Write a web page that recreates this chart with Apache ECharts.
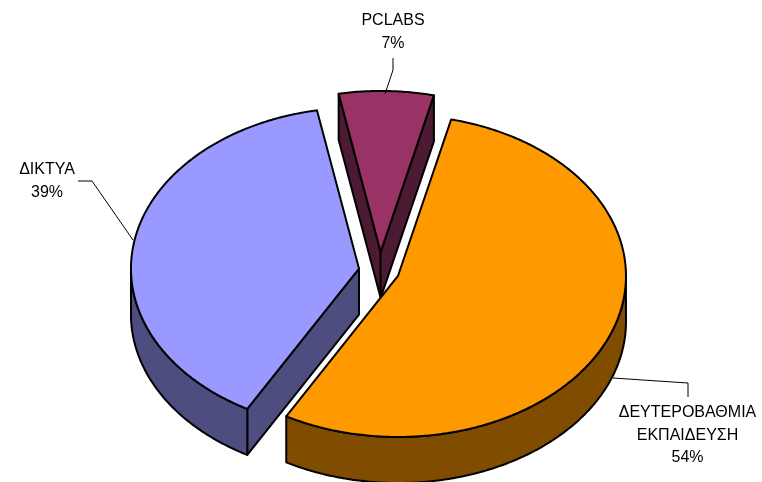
<!DOCTYPE html>
<html>
<head>
<meta charset="utf-8">
<script src="https://cdn.jsdelivr.net/npm/echarts@6/dist/echarts.min.js"></script>
<style>
html,body{margin:0;padding:0;background:#fff;}
#chart{width:762px;height:482px;}
</style>
</head>
<body>
<div id="chart"></div>
<script>
// ---- data ----
const categories = ['ΔΕΥΤΕΡΟΒΑΘΜΙΑ ΕΚΠΑΙΔΕΥΣΗ', 'ΔΙΚΤΥΑ', 'PCLABS'];
const values = [54.4, 38.9, 6.7];
const topColors = ['#FF9900', '#9999FF', '#993366'];
const sideColors = ['#804C00', '#4D4D80', '#4D1A33'];

// ---- layout (not data) ----
const geo = { cx: 380, cy: 271, rx: 228, ry: 161, depth: 46, startDeg: 13.5 };
const explode = [19.3, 21.3, 27];
const labelLayout = [
  { x: 687.5, y: 401.5, line: [[613, 378], [688, 383], [688, 397]] },
  { x: 47, y: 158.5, line: [[78, 181], [92, 181], [133, 240]] },
  { x: 393, y: 9.5, line: [[393, 58], [393, 70], [385, 94]] }
];

const total = values.reduce((a, b) => a + b, 0);
const angles = [];
(function () {
  let a = geo.startDeg * Math.PI / 180;
  for (let i = 0; i < values.length; i++) {
    const b = a + 2 * Math.PI * values[i] / total;
    angles.push([a, b]);
    a = b;
  }
})();
// depth rank: back slices first
const rank = angles.map((ab, i) => ({ i, c: Math.cos((ab[0] + ab[1]) / 2) }))
  .sort((p, q) => q.c - p.c)
  .reduce((acc, p, r) => { acc[p.i] = r; return acc; }, {});

function renderItem(params, api) {
  const i = params.dataIndex;
  const [a, b] = angles[i];
  const m = (a + b) / 2;
  const k = geo.ry / geo.rx;
  const ox = geo.cx + explode[i] * Math.sin(m);
  const oy = geo.cy - explode[i] * Math.cos(m) * k;
  const d = geo.depth;
  const P = (t, dy) => [ox + geo.rx * Math.sin(t), oy - geo.ry * Math.cos(t) + (dy || 0)];
  const arc = (t0, t1, dy) => {
    const n = Math.max(2, Math.ceil(Math.abs(t1 - t0) / 0.01));
    const pts = [];
    for (let j = 0; j <= n; j++) pts.push(P(t0 + (t1 - t0) * j / n, dy));
    return pts;
  };
  const base = rank[i] * 10;
  const stroke = { stroke: '#000', lineWidth: 2, lineJoin: 'round' };
  const children = [];
  const side = Object.assign({ fill: sideColors[i] }, stroke);

  // radial wall at start angle
  if (Math.sin(a) < 0) {
    const r = P(a);
    children.push({ type: 'polygon', z2: base + 1,
      shape: { points: [[ox, oy], r, [r[0], r[1] + d], [ox, oy + d]] }, style: side });
  }
  // radial wall at end angle
  if (Math.sin(b) > 0) {
    const r = P(b);
    children.push({ type: 'polygon', z2: base + 1,
      shape: { points: [[ox, oy], r, [r[0], r[1] + d], [ox, oy + d]] }, style: side });
  }
  // outer curved wall (front half)
  const lo = Math.max(a, Math.PI / 2), hi = Math.min(b, 3 * Math.PI / 2);
  if (hi > lo) {
    const pts = arc(lo, hi, 0).concat(arc(hi, lo, d));
    children.push({ type: 'polygon', z2: base + 2, shape: { points: pts }, style: side });
  }
  // top face
  const topPts = [[ox, oy]].concat(arc(a, b, 0));
  children.push({ type: 'polygon', z2: base + 3, shape: { points: topPts },
    style: Object.assign({ fill: topColors[i] }, stroke) });

  // label + leader
  const L = labelLayout[i];
  const pct = Math.round(values[i] / total * 100) + '%';
  children.push({ type: 'polyline', z2: 100, shape: { points: L.line },
    style: { stroke: '#000', lineWidth: 1, fill: null } });
  children.push({ type: 'text', z2: 101,
    style: { text: categories[i].replace(' ', '\n') + '\n' + pct, x: L.x, y: L.y,
      textAlign: 'center', textVerticalAlign: 'top', fill: '#000',
      font: '16px "Liberation Sans", Arial, sans-serif', lineHeight: 22.5 } });

  return { type: 'group', children };
}

const chart = echarts.init(document.getElementById('chart'), null, { renderer: 'canvas' });
chart.setOption({
  animation: false,
  backgroundColor: '#fff',
  series: [{
    type: 'custom',
    coordinateSystem: 'none',
    renderItem: renderItem,
    data: values.map((v, i) => ({ name: categories[i], value: v }))
  }]
});
</script>
</body>
</html>
